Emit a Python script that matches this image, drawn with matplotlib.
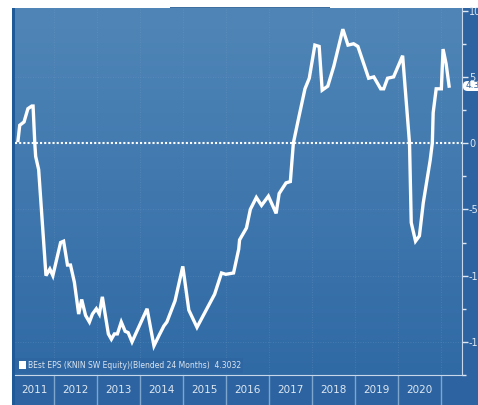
import numpy as np
import matplotlib
matplotlib.use('Agg')
import matplotlib.pyplot as plt
from matplotlib.patches import Rectangle, FancyBboxPatch

# EPS estimate, blended 24 months (decimal year, value)
years = [2011.17, 2011.21, 2011.31, 2011.40, 2011.49, 2011.52, 2011.56, 2011.58, 2011.65,
         2011.82, 2011.91, 2011.98, 2012.16, 2012.23, 2012.32, 2012.39, 2012.48, 2012.53,
         2012.58, 2012.65, 2012.74, 2012.83, 2012.90, 2012.99, 2013.06, 2013.13, 2013.27,
         2013.34, 2013.41, 2013.48, 2013.57, 2013.66, 2013.73, 2013.82, 2014.17, 2014.26,
         2014.33, 2014.45, 2014.56, 2014.63, 2014.82, 2015.00, 2015.14, 2015.33, 2015.74,
         2015.90, 2016.00, 2016.18, 2016.30, 2016.32, 2016.48, 2016.57, 2016.71, 2016.83,
         2016.99, 2017.17, 2017.24, 2017.40, 2017.50, 2017.57, 2017.70, 2017.84, 2017.94,
         2018.07, 2018.17, 2018.24, 2018.37, 2018.51, 2018.72, 2018.84, 2018.97, 2019.07,
         2019.32, 2019.44, 2019.60, 2019.67, 2019.76, 2019.90, 2020.11, 2020.27, 2020.31,
         2020.41, 2020.50, 2020.59, 2020.75, 2020.80, 2020.82, 2020.89, 2021.01, 2021.05,
         2021.12, 2021.19]
eps = [0.2, 1.35, 1.6, 2.6, 2.8, 2.8, 0.0, -1.0, -2.0,
       -10.0, -9.5, -10.0, -7.5, -7.4, -9.2, -9.2, -10.5, -11.7,
       -12.9, -11.8, -13.0, -13.5, -12.9, -12.5, -12.9, -11.6, -14.4,
       -14.8, -14.4, -14.4, -13.5, -14.2, -14.3, -15.0, -12.5, -14.1,
       -15.3, -14.5, -13.8, -13.5, -11.9, -9.3, -12.6, -13.9, -11.4,
       -9.8, -9.9, -9.8, -8.0, -7.3, -6.4, -5.0, -4.1, -4.7,
       -4.0, -5.3, -3.8, -3.0, -2.9, 0.0, 2.0, 4.1, 4.9,
       7.4, 7.3, 4.0, 4.3, 5.8, 8.6, 7.4, 7.5, 7.3,
       4.9, 5.0, 4.1, 4.1, 4.9, 5.0, 6.6, 0.0, -6.0,
       -7.4, -7.0, -4.5, -1.3, 0.0, 2.3, 4.1, 4.1, 7.1,
       6.0, 4.3032]
year_labels = ['2011', '2012', '2013', '2014', '2015', '2016', '2017', '2018', '2019', '2020']
ytick_vals = [10, 5, 0, -5, -10, -15]
last_value = 4.3032

W, H = 478, 405
fig = plt.figure(figsize=(W / 100, H / 100), dpi=100)
fig.patch.set_facecolor('white')

# dark blue frame behind the chart, white strip on the left and top
fig.add_artist(Rectangle((12 / W, 0), 1 - 12 / W, 1 - 8 / H, transform=fig.transFigure,
                         facecolor='#2c63a0', edgecolor='none', zorder=0))
fig.add_artist(Rectangle((12 / W, 0), 3 / W, 1 - 8 / H, transform=fig.transFigure,
                         facecolor='#1f5a98', edgecolor='none', zorder=0))
fig.add_artist(Rectangle((170 / W, 1 - 10 / H), 160 / W, 3 / H, transform=fig.transFigure,
                         facecolor='#3f6f9f', edgecolor='none', zorder=0))

ax = fig.add_axes([15 / W, 30 / H, (462 - 15) / W, (397 - 30) / H])
x0, x1 = 2011.1, 2021.49
y0, y1 = -17.5, 10.2
ax.set_xlim(x0, x1)
ax.set_ylim(y0, y1)

# vertical gradient background
grad = np.linspace(0, 1, 256).reshape(-1, 1)
top = np.array([0x50, 0x86, 0xb7]) / 255
bot = np.array([0x30, 0x6a, 0xa5]) / 255
img = top * (1 - grad[..., None]) + bot * grad[..., None]
ax.imshow(img, extent=[x0, x1, y0, y1], aspect='auto', zorder=0)

# faint grid
for yr in range(2012, 2022):
    ax.axvline(yr, color='#7fa6cc', lw=0.6, ls=(0, (1, 2)), alpha=0.35, zorder=1)
for v in [5, -5, -10, -15]:
    ax.axhline(v, color='#7fa6cc', lw=0.6, ls=(0, (1, 2)), alpha=0.35, zorder=1)
ax.axhline(0, color='white', lw=1.5, ls=(0, (1, 1)), zorder=2)

ax.plot(years, eps, color='white', lw=2.4, solid_joinstyle='miter', zorder=3)

# spines and ticks
for s in ['top', 'left']:
    ax.spines[s].set_visible(False)
ax.spines['right'].set_color('#c8d8ea')
ax.spines['bottom'].set_color('#c8d8ea')
ax.spines['right'].set_linewidth(0.8)
ax.spines['bottom'].set_linewidth(0.8)

ax.yaxis.tick_right()
ax.set_yticks(ytick_vals)
ax.set_yticklabels([str(v) for v in ytick_vals])
ax.set_yticks([7.5, 2.5, -2.5, -7.5, -12.5, -17.5], minor=True)
ax.tick_params(axis='y', which='major', length=4, width=1, color='#dfe8f2',
               labelcolor='#dfe8f2', labelsize=7, pad=1)
ax.tick_params(axis='y', which='minor', length=3, width=1, color='#dfe8f2')

ax.set_xticks(range(2012, 2022))
ax.set_xticklabels([])
ax.tick_params(axis='x', which='major', length=23, width=1, color='#7fa6cc', direction='out')
mids = [max(x0, y) for y in range(2011, 2021)]
ax.set_xticks([(mids[i] + 2012 + i) / 2 for i in range(10)], minor=True)
ax.set_xticklabels(year_labels, minor=True)
ax.tick_params(axis='x', which='minor', length=0, labelcolor='#dfe8f2', labelsize=7.5, pad=7)

# legend box
ax.add_patch(Rectangle((0.0, 0.005), 0.51, 0.042, transform=ax.transAxes,
                       facecolor='#2d65a2', edgecolor='none', alpha=0.7, zorder=4))
ax.add_patch(Rectangle((0.008, 0.017), 0.016, 0.021, transform=ax.transAxes,
                       facecolor='white', edgecolor='none', zorder=5))
ax.text(0.03, 0.027, 'BEst EPS (KNIN SW Equity)(Blended 24 Months)  %.4f' % last_value,
        transform=ax.transAxes, fontsize=5.5, color='#dde6f0', va='center', zorder=5)

# last value tag on the right axis
tag = FancyBboxPatch((463 / W, (H - 91) / H), 20 / W, 10 / H, transform=fig.transFigure,
                     boxstyle='round,pad=0,rounding_size=0.01', facecolor='white',
                     edgecolor='none', zorder=5)
fig.add_artist(tag)
fig.text(466 / W, (H - 86) / H, '%.2f' % last_value, fontsize=6.5, color='#2c63a0',
         va='center', ha='left', zorder=6)

fig.savefig('out.png', dpi=100)
